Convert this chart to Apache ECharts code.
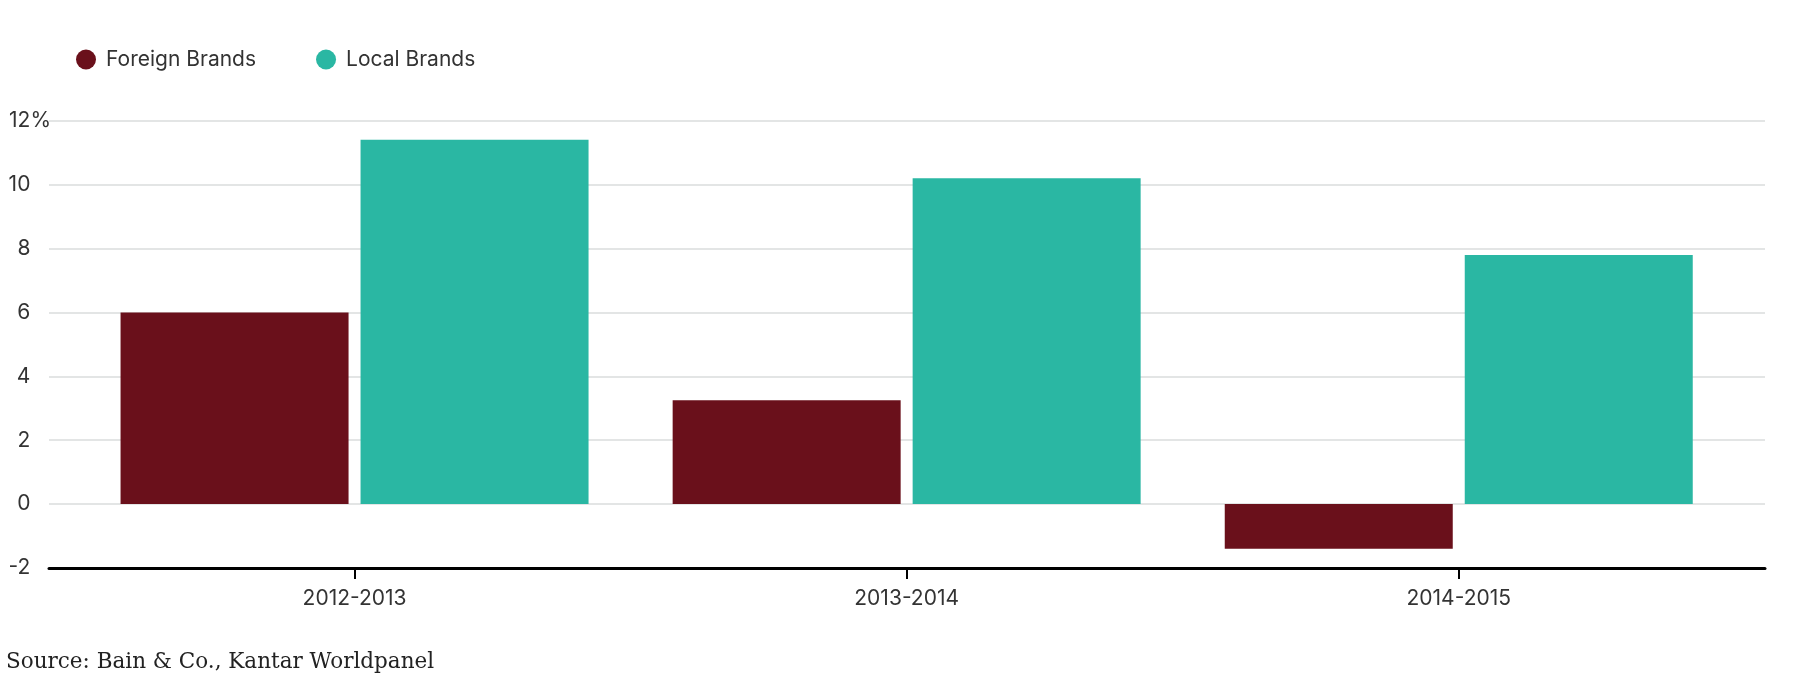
<!DOCTYPE html>
<html>
<head>
<meta charset="utf-8">
<script src="https://cdn.jsdelivr.net/npm/echarts@6/dist/echarts.min.js"></script>
<style>
html,body{margin:0;padding:0;background:#fff;}
#chart{width:1798px;height:688px;}
</style>
</head>
<body>
<div id="chart"></div>
<script>
const categories = ['2012-2013', '2013-2014', '2014-2015'];
const foreignBrands = [6.0, 3.25, -1.4];
const localBrands = [11.4, 10.2, 7.8];
const seriesNames = ['Foreign Brands', 'Local Brands'];
const yMin = -2, yMax = 12, yStep = 2;
const sourceText = 'Source: Bain & Co., Kantar Worldpanel';

const chart = echarts.init(document.getElementById('chart'), null, {renderer: 'canvas'});
const txt = '#333333';
const font = 'Inter';
const fs = 21;
chart.setOption({
  animation: false,
  backgroundColor: '#ffffff',
  title: {
    text: sourceText,
    left: 1, top: 646,
    textStyle: {fontFamily: 'DejaVu Serif', fontSize: 21.5, fontWeight: 'normal', color: '#222222'}
  },
  legend: {
    left: 71, top: 44,
    icon: 'circle',
    itemWidth: 20, itemHeight: 20,
    itemGap: 60,
    textStyle: {fontFamily: font, fontSize: fs, color: txt, padding: [0, 0, 0, 5]},
    data: seriesNames
  },
  grid: [
    {left: 49, right: 33, top: 120.7, bottom: 120},
    {left: 78.5, right: 63.2, top: 120.7, bottom: 120}
  ],
  xAxis: [
    {
      gridIndex: 0, type: 'category', data: categories,
      axisLine: {show: true, onZero: false, lineStyle: {color: '#000', width: 3}},
      axisTick: {show: false}, axisLabel: {show: false}, splitLine: {show: false}
    },
    {
      gridIndex: 1, type: 'category', data: categories,
      axisLine: {show: false, onZero: false},
      axisTick: {show: true, alignWithLabel: true, length: 11, lineStyle: {color: '#000', width: 2}},
      axisLabel: {margin: 20, fontFamily: font, fontSize: fs, color: txt}
    }
  ],
  yAxis: [
    {
      gridIndex: 0, type: 'value', min: yMin, max: yMax, interval: yStep,
      axisLine: {show: false}, axisTick: {show: false},
      axisLabel: {
        margin: -2, fontFamily: font, fontSize: fs, color: txt,
        formatter: v => v === yMax ? '{n|' + v + '}{p|%}' : '{n|' + v + '}{h|%}',
        rich: {
          n: {fontFamily: font, fontSize: fs, color: txt},
          p: {fontFamily: font, fontSize: fs, color: txt},
          h: {fontFamily: font, fontSize: fs, color: 'rgba(0,0,0,0)'}
        }
      },
      splitLine: {show: true, lineStyle: {color: '#dadcdc', width: 1.5}}
    },
    {
      gridIndex: 1, type: 'value', min: yMin, max: yMax, interval: yStep,
      show: false, splitLine: {show: false}
    }
  ],
  series: [
    {
      name: seriesNames[0], type: 'bar', xAxisIndex: 1, yAxisIndex: 1,
      data: foreignBrands, barWidth: 228, barGap: '5.26%',
      itemStyle: {color: '#6a101b'}
    },
    {
      name: seriesNames[1], type: 'bar', xAxisIndex: 1, yAxisIndex: 1,
      data: localBrands, barWidth: 228, barGap: '5.26%',
      itemStyle: {color: '#2ab7a3'}
    }
  ]
});
</script>
</body>
</html>
